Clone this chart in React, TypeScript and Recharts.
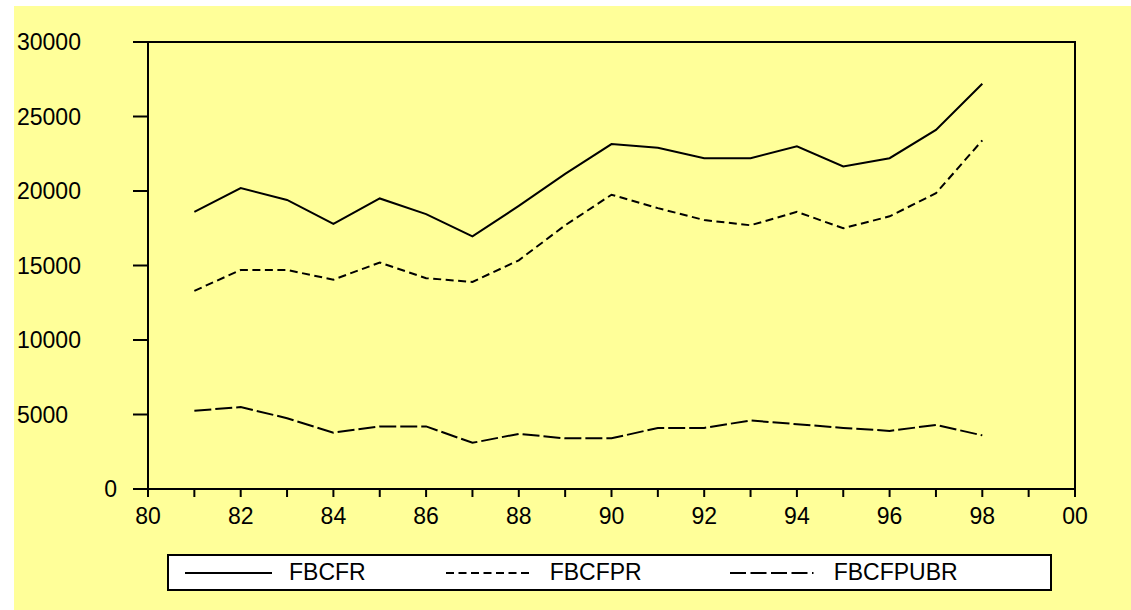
import { LineChart, Line, XAxis, YAxis, Legend, ReferenceArea } from 'recharts';

const years = [1981, 1982, 1983, 1984, 1985, 1986, 1987, 1988, 1989, 1990, 1991, 1992, 1993, 1994, 1995, 1996, 1997, 1998];
const fbcfr = [18600, 20200, 19400, 17800, 19500, 18450, 16950, 19000, 21150, 23150, 22900, 22200, 22200, 23000, 21650, 22200, 24100, 27200];
const fbcfpr = [13300, 14700, 14700, 14050, 15200, 14150, 13900, 15350, 17700, 19750, 18850, 18050, 17700, 18600, 17500, 18300, 19850, 23400];
const fbcfpubr = [5250, 5500, 4750, 3780, 4200, 4200, 3100, 3700, 3400, 3400, 4100, 4100, 4600, 4350, 4100, 3900, 4300, 3600];

const xTicks = [1980, 1981, 1982, 1983, 1984, 1985, 1986, 1987, 1988, 1989, 1990, 1991, 1992, 1993, 1994, 1995, 1996, 1997, 1998, 1999, 2000];
const yTicks = [0, 5000, 10000, 15000, 20000, 25000, 30000];

const seriesNames = ['FBCFR', 'FBCFPR', 'FBCFPUBR'];
const dashes = ['', '8 4.5', '17 4'];
const legendDashes = ['', '8 4.5', '16 4.5 16 4.5 16 4.5 16 4.5 1.5 20'];

const data = years.map((year, i) => ({
  year,
  FBCFR: fbcfr[i],
  FBCFPR: fbcfpr[i],
  FBCFPUBR: fbcfpubr[i],
}));

const font = '"Liberation Sans", Arial, sans-serif';

function YTick({ x, y, payload }: any) {
  const isZero = payload.value === 0;
  return (
    <text
      x={isZero ? x : 3}
      y={y}
      dy="0.36em"
      textAnchor={isZero ? 'end' : 'start'}
      fontFamily={font}
      fontSize={23}
      fill="#000"
    >
      {payload.value}
    </text>
  );
}

function LegendBox() {
  return (
    <div
      style={{
        width: 865,
        height: 33,
        border: '2px solid #000',
        background: '#fff',
        display: 'flex',
        alignItems: 'center',
        paddingLeft: 16,
        gap: 80,
        fontFamily: font,
        fontSize: 23,
        boxSizing: 'content-box',
      }}
    >
      {seriesNames.map((name, i) => (
        <div key={name} style={{ display: 'flex', alignItems: 'center', marginLeft: i === 2 ? 8 : 0 }}>
          <svg width={87} height={10}>
            <line x1={0} y1={5} x2={87} y2={5} stroke="#000" strokeWidth={2} strokeDasharray={legendDashes[i]} />
          </svg>
          <span style={{ marginLeft: 17, lineHeight: '33px' }}>{name}</span>
        </div>
      ))}
    </div>
  );
}

export default function App() {
  return (
    <div style={{ position: 'absolute', left: 14, top: 6, width: 1117, height: 604, background: '#FFFF99' }}>
      <LineChart width={1117} height={604} data={data} margin={{ top: 36, right: 56, left: 0, bottom: 81 }}>
        <XAxis
          dataKey="year"
          type="number"
          domain={[1980, 2000]}
          ticks={xTicks}
          interval={0}
          tickFormatter={(v: number) => (v % 2 === 0 ? String(v % 100).padStart(2, '0') : '')}
          height={40}
          tickSize={8}
          tickMargin={11}
          axisLine={{ stroke: '#000', strokeWidth: 2 }}
          tickLine={{ stroke: '#000', strokeWidth: 2 }}
          tick={{ fill: '#000', fontSize: 23, fontFamily: font }}
        />
        <YAxis
          type="number"
          domain={[0, 30000]}
          ticks={yTicks}
          interval={0}
          width={134}
          tickSize={15}
          tickMargin={16}
          axisLine={{ stroke: '#000', strokeWidth: 2 }}
          tickLine={{ stroke: '#000', strokeWidth: 2 }}
          tick={<YTick />}
        />
        <ReferenceArea x1={1980} x2={2000} y1={0} y2={30000} fill="none" stroke="#000" strokeWidth={2} ifOverflow="visible" />
        {seriesNames.map((name, i) => (
          <Line
            key={name}
            dataKey={name}
            stroke="#000"
            strokeWidth={2}
            strokeDasharray={dashes[i] || undefined}
            dot={false}
            activeDot={false}
            isAnimationActive={false}
          />
        ))}
        <Legend
          layout="horizontal"
          verticalAlign="middle"
          align="center"
          wrapperStyle={{ top: 548, left: 153, width: 'auto' }}
          content={() => <LegendBox />}
        />
      </LineChart>
    </div>
  );
}
